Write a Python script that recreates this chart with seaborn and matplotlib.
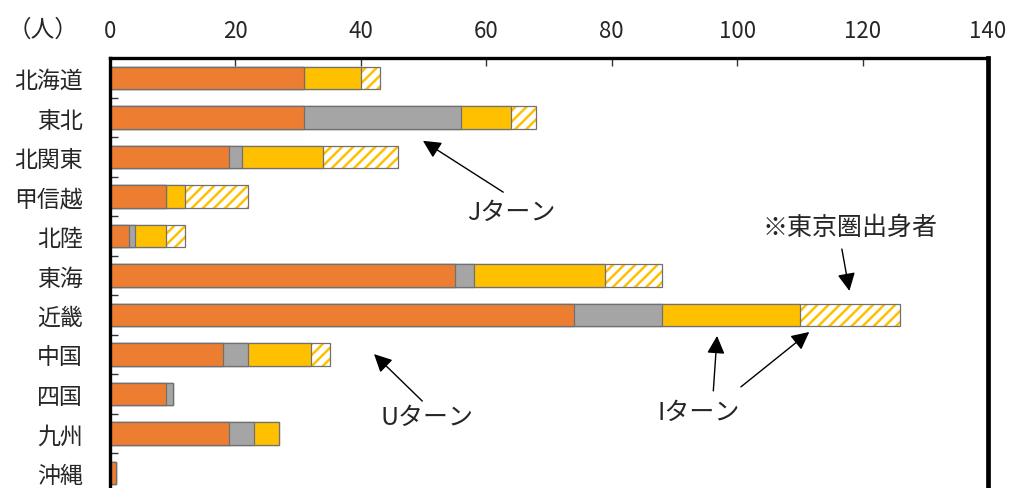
import matplotlib
matplotlib.use("Agg")
import matplotlib.pyplot as plt
import pandas as pd
import seaborn as sns

# 出身地域別の移住者数（人）
regions = ["北海道", "東北", "北関東", "甲信越", "北陸", "東海", "近畿", "中国", "四国", "九州", "沖縄"]
u_turn = [31, 31, 19, 9, 3, 55, 74, 18, 9, 19, 1]
j_turn = [0, 25, 2, 0, 1, 3, 14, 4, 1, 4, 0]
i_turn = [9, 8, 13, 3, 5, 21, 22, 10, 0, 4, 0]
i_turn_tokyo = [3, 4, 12, 10, 3, 9, 16, 3, 0, 0, 0]
x_ticks = [0, 20, 40, 60, 80, 100, 120, 140]

ORANGE = "#ED7D31"
GRAY = "#A5A5A5"
YELLOW = "#FFC000"
EDGE = "#707070"

sns.set_theme(style="white")
plt.rcParams["font.family"] = ["Noto Sans CJK JP", "DejaVu Sans"]
plt.rcParams["hatch.linewidth"] = 1.8

df = pd.DataFrame({
    "region": regions,
    "u": u_turn,
    "j": j_turn,
    "i": i_turn,
    "t": i_turn_tokyo,
})
df["c_u"] = df["u"]
df["c_j"] = df["c_u"] + df["j"]
df["c_i"] = df["c_j"] + df["i"]
df["c_t"] = df["c_i"] + df["t"]

fig = plt.figure(figsize=(10.11, 4.89), dpi=100)
ax = fig.add_axes([110 / 1011, -4.75 / 489, 878 / 1011, 434.5 / 489])

bar_h = 0.56
common = dict(data=df, y="region", orient="h", order=regions,
              errorbar=None, saturation=1, width=bar_h, ax=ax)

# 積み上げ：合計から順に重ねる
sns.barplot(x="c_t", color="white", edgecolor=YELLOW, hatch="///",
            linewidth=0, **common)
sns.barplot(x="c_t", fill=False, color=EDGE, linewidth=0.9, **common)
for col, colr in [("c_i", YELLOW), ("c_j", GRAY), ("c_u", ORANGE)]:
    sns.barplot(x=col, color=colr, edgecolor=EDGE, linewidth=0.9, **common)

ax.set_xlim(0, 140)
ax.set_ylim(10.5, -0.5)
ax.set_xlabel("")
ax.set_ylabel("")

ax.xaxis.tick_top()
ax.set_xticks(x_ticks)
ax.set_xticklabels([str(v) for v in x_ticks])
ax.tick_params(axis="x", which="major", direction="in", length=6, width=1,
               color="#333333", pad=12, labelsize=16, top=True, bottom=False)
ax.set_yticks(range(len(regions)))
ax.set_yticklabels(regions)
ax.tick_params(axis="y", which="major", length=0, pad=19.5, labelsize=16.5)
ax.set_yticks([k + 0.5 for k in range(len(regions))], minor=True)
ax.tick_params(axis="y", which="minor", direction="in", length=6, width=1,
               color="#333333", left=True)

for side, lw in [("top", 2.4), ("left", 2.4), ("right", 3.4)]:
    ax.spines[side].set_visible(True)
    ax.spines[side].set_linewidth(lw)
    ax.spines[side].set_color("black")
ax.spines["bottom"].set_visible(False)

fig.text(43 / 1011, 1 - 30 / 489, "（人）", ha="center", va="center", fontsize=17)

arrow = dict(arrowstyle="-|>,head_length=0.6,head_width=0.3", color="black",
             lw=1, mutation_scale=18, shrinkA=0, shrinkB=0)
label_fs = 18

# Jターン
ax.annotate("", xy=(49.9, 1.59), xytext=(62.7, 2.89), arrowprops=arrow)
ax.text(64.0, 3.39, "Jターン", ha="center", va="center", fontsize=label_fs)
# Uターン
ax.annotate("", xy=(42.1, 6.99), xytext=(49.8, 8.18), arrowprops=arrow)
ax.text(50.6, 8.58, "Uターン", ha="center", va="center", fontsize=label_fs)
# Iターン
ax.annotate("", xy=(96.8, 6.53), xytext=(96.2, 7.92), arrowprops=arrow)
ax.annotate("", xy=(111.5, 6.43), xytext=(100.6, 7.82), arrowprops=arrow)
ax.text(93.8, 8.46, "Iターン", ha="center", va="center", fontsize=label_fs)
# 東京圏出身者
ax.annotate("", xy=(117.9, 5.39), xytext=(116.7, 4.33), arrowprops=arrow)
ax.text(118.0, 3.77, "※東京圏出身者", ha="center", va="center", fontsize=label_fs)

fig.savefig("out.png", dpi=100)
